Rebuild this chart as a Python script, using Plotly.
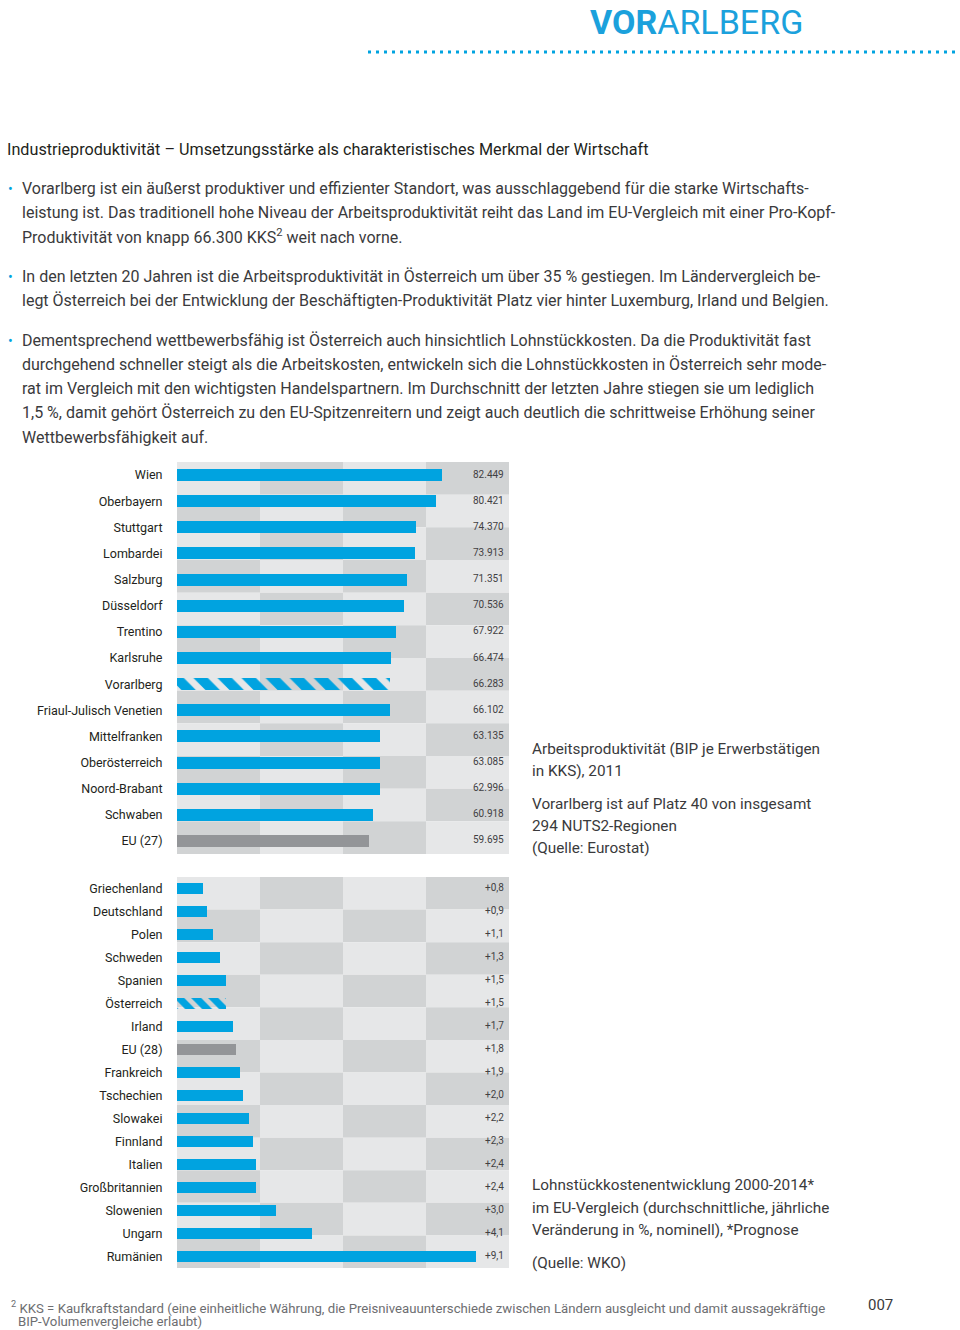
import plotly.graph_objects as go

# ---------------- data ----------------
regions = ["Wien", "Oberbayern", "Stuttgart", "Lombardei", "Salzburg", "Düsseldorf",
           "Trentino", "Karlsruhe", "Vorarlberg", "Friaul-Julisch Venetien",
           "Mittelfranken", "Oberösterreich", "Noord-Brabant", "Schwaben", "EU (27)"]
productivity = [82.449, 80.421, 74.370, 73.913, 71.351, 70.536, 67.922, 66.474,
                66.283, 66.102, 63.135, 63.085, 62.996, 60.918, 59.695]

countries = ["Griechenland", "Deutschland", "Polen", "Schweden", "Spanien", "Österreich",
             "Irland", "EU (28)", "Frankreich", "Tschechien", "Slowakei", "Finnland",
             "Italien", "Großbritannien", "Slowenien", "Ungarn", "Rumänien"]
ulc_change = [0.8, 0.9, 1.1, 1.3, 1.5, 1.5, 1.7, 1.8, 1.9, 2.0, 2.2, 2.3, 2.4, 2.4,
              3.0, 4.1, 9.1]

highlight_1 = "Vorarlberg"
average_1 = "EU (27)"
highlight_2 = "Österreich"
average_2 = "EU (28)"

# ---------------- styles ----------------
W, H = 960, 1330
BLUE = "#00a3e0"
GREY_BAR = "#939598"
LIGHT = "#e6e7e8"
DARK = "#d1d3d4"
TXT = "#231f20"
BODY = "#3a3a3c"
FONT = "Roboto"


def px(x):
    return x / W


def py(y):
    return 1 - y / H


def colors_for(cats, hl, avg):
    return [GREY_BAR if c == avg else BLUE for c in cats]


def pattern_for(cats, hl):
    return ["\\" if c == hl else "" for c in cats]


fig = go.Figure()

fig.add_trace(go.Bar(
    x=productivity, y=regions, orientation="h", xaxis="x", yaxis="y",
    width=0.46,
    marker=dict(color=colors_for(regions, highlight_1, average_1), line=dict(width=0),
                pattern=dict(shape=pattern_for(regions, highlight_1), fillmode="replace",
                             bgcolor="white", size=17, solidity=0.6)),
    hoverinfo="x+y", showlegend=False,
))
fig.add_trace(go.Bar(
    x=ulc_change, y=countries, orientation="h", xaxis="x2", yaxis="y2",
    width=0.52,
    marker=dict(color=colors_for(countries, highlight_2, average_2), line=dict(width=0),
                pattern=dict(shape=pattern_for(countries, highlight_2), fillmode="replace",
                             bgcolor="white", size=12, solidity=0.6)),
    hoverinfo="x+y", showlegend=False,
))

xdom = [px(177), px(509)]
y1dom = [py(854), py(462)]
y2dom = [py(1268), py(877)]

axis_common = dict(showgrid=False, zeroline=False, showline=False, fixedrange=True)
fig.update_layout(
    width=W, height=H, margin=dict(l=0, r=0, t=0, b=0),
    paper_bgcolor="white", plot_bgcolor="rgba(0,0,0,0)",
    barmode="overlay", bargap=0,
    font=dict(family=FONT, color=TXT),
    xaxis=dict(domain=xdom, range=[0, 103.2], showticklabels=False, anchor="y", **axis_common),
    yaxis=dict(domain=y1dom, anchor="x", autorange="reversed", categoryorder="array",
               categoryarray=regions, ticks="outside", ticklen=11, tickcolor="rgba(0,0,0,0)",
               tickfont=dict(family=FONT, size=12.5, color=TXT), **axis_common),
    xaxis2=dict(domain=xdom, range=[0, 10.09], showticklabels=False, anchor="y2", **axis_common),
    yaxis2=dict(domain=y2dom, anchor="x2", autorange="reversed", categoryorder="array",
                categoryarray=countries, ticks="outside", ticklen=11, tickcolor="rgba(0,0,0,0)",
                tickfont=dict(family=FONT, size=12.5, color=TXT), **axis_common),
)

# ---------------- checkerboard backgrounds ----------------
shapes = []
for xa, ya in (("x", "y"), ("x2", "y2")):
    nrows, ncols = 12, 4
    for r in range(nrows):
        for c in range(ncols):
            shapes.append(dict(
                type="rect", xref=f"{xa} domain", yref=f"{ya} domain",
                x0=c / ncols, x1=(c + 1) / ncols,
                y0=1 - (r + 1) / nrows, y1=1 - r / nrows,
                fillcolor=DARK if (r + c) % 2 else LIGHT, line=dict(width=0), layer="below"))

# dotted rule under title
shapes.append(dict(type="line", xref="paper", yref="paper", x0=px(368), x1=px(960),
                   y0=py(52), y1=py(52), line=dict(color=BLUE, width=3, dash="3px,5px")))
fig.update_layout(shapes=shapes)

# ---------------- annotations ----------------
ann = []

# value labels
for cat, v in zip(regions, productivity):
    ann.append(dict(xref="x domain", yref="y", x=0.99, y=cat, text=f"{v:.3f}",
                    xanchor="right", yanchor="middle", showarrow=False, yshift=1,
                    font=dict(family=FONT, size=10, color="#414042")))
for cat, v in zip(countries, ulc_change):
    ann.append(dict(xref="x2 domain", yref="y2", x=0.99, y=cat,
                    text="+" + f"{v:.1f}".replace(".", ","),
                    xanchor="right", yanchor="middle", showarrow=False, yshift=1,
                    font=dict(family=FONT, size=10, color="#414042")))


def text(x, y, s, size=15, color=BODY, anchor="left", yanchor="middle", **kw):
    ann.append(dict(xref="paper", yref="paper", x=px(x), y=py(y), text=s, showarrow=False,
                    xanchor=anchor, yanchor=yanchor,
                    font=dict(family=FONT, size=size, color=color), **kw))


# title
text(805, 0, "<b>VOR</b>ARLBERG", size=34, color="#1ba1dc", anchor="right", yanchor="top")

# heading
text(5, 149, "Industrieproduktivität – Umsetzungsstärke als charakteristisches Merkmal der Wirtschaft",
     size=16.2, color=TXT)

paragraphs = [
    (188, ["Vorarlberg ist ein äußerst produktiver und effizienter Standort, was ausschlaggebend für die starke Wirtschafts-",
           "leistung ist. Das traditionell hohe Niveau der Arbeitsproduktivität reiht das Land im EU-Vergleich mit einer Pro-Kopf-",
           "Produktivität von knapp 66.300 KKS<sup>2</sup> weit nach vorne."]),
    (276, ["In den letzten 20 Jahren ist die Arbeitsproduktivität in Österreich um über 35 % gestiegen. Im Ländervergleich be-",
           "legt Österreich bei der Entwicklung der Beschäftigten-Produktivität Platz vier hinter Luxemburg, Irland und Belgien."]),
    (340, ["Dementsprechend wettbewerbsfähig ist Österreich auch hinsichtlich Lohnstückkosten. Da die Produktivität fast",
           "durchgehend schneller steigt als die Arbeitskosten, entwickeln sich die Lohnstückkosten in Österreich sehr mode-",
           "rat im Vergleich mit den wichtigsten Handelspartnern. Im Durchschnitt der letzten Jahre stiegen sie um lediglich",
           "1,5 %, damit gehört Österreich zu den EU-Spitzenreitern und zeigt auch deutlich die schrittweise Erhöhung seiner",
           "Wettbewerbsfähigkeit auf."]),
]
for y0, lines in paragraphs:
    text(6, y0 + 1, "•", size=14, color=BLUE)
    for i, line in enumerate(lines):
        text(20, y0 + i * 24.3, line, size=16)

# side notes
for y, s in [(749, "Arbeitsproduktivität (BIP je Erwerbstätigen"), (771, "in KKS), 2011"),
             (804, "Vorarlberg ist auf Platz 40 von insgesamt"), (826, "294 NUTS2-Regionen"),
             (848, "(Quelle: Eurostat)"),
             (1185, "Lohnstückkostenentwicklung 2000-2014*"),
             (1208, "im EU-Vergleich (durchschnittliche, jährliche"),
             (1230, "Veränderung in %, nominell), *Prognose"),
             (1263, "(Quelle: WKO)")]:
    text(530, y, s, size=15.3)

# footnote
text(9, 1307, "<sup>2</sup> KKS = Kaufkraftstandard (eine einheitliche Währung, die Preisniveauunterschiede zwischen Ländern ausgleicht und damit aussagekräftige",
     size=13.2, color="#6d6e71")
text(16, 1321, "BIP-Volumenvergleiche erlaubt)", size=13.2, color="#6d6e71")
text(866, 1305, "007", size=15, color=BODY)

fig.update_layout(annotations=ann)
fig.write_html("out.html")
